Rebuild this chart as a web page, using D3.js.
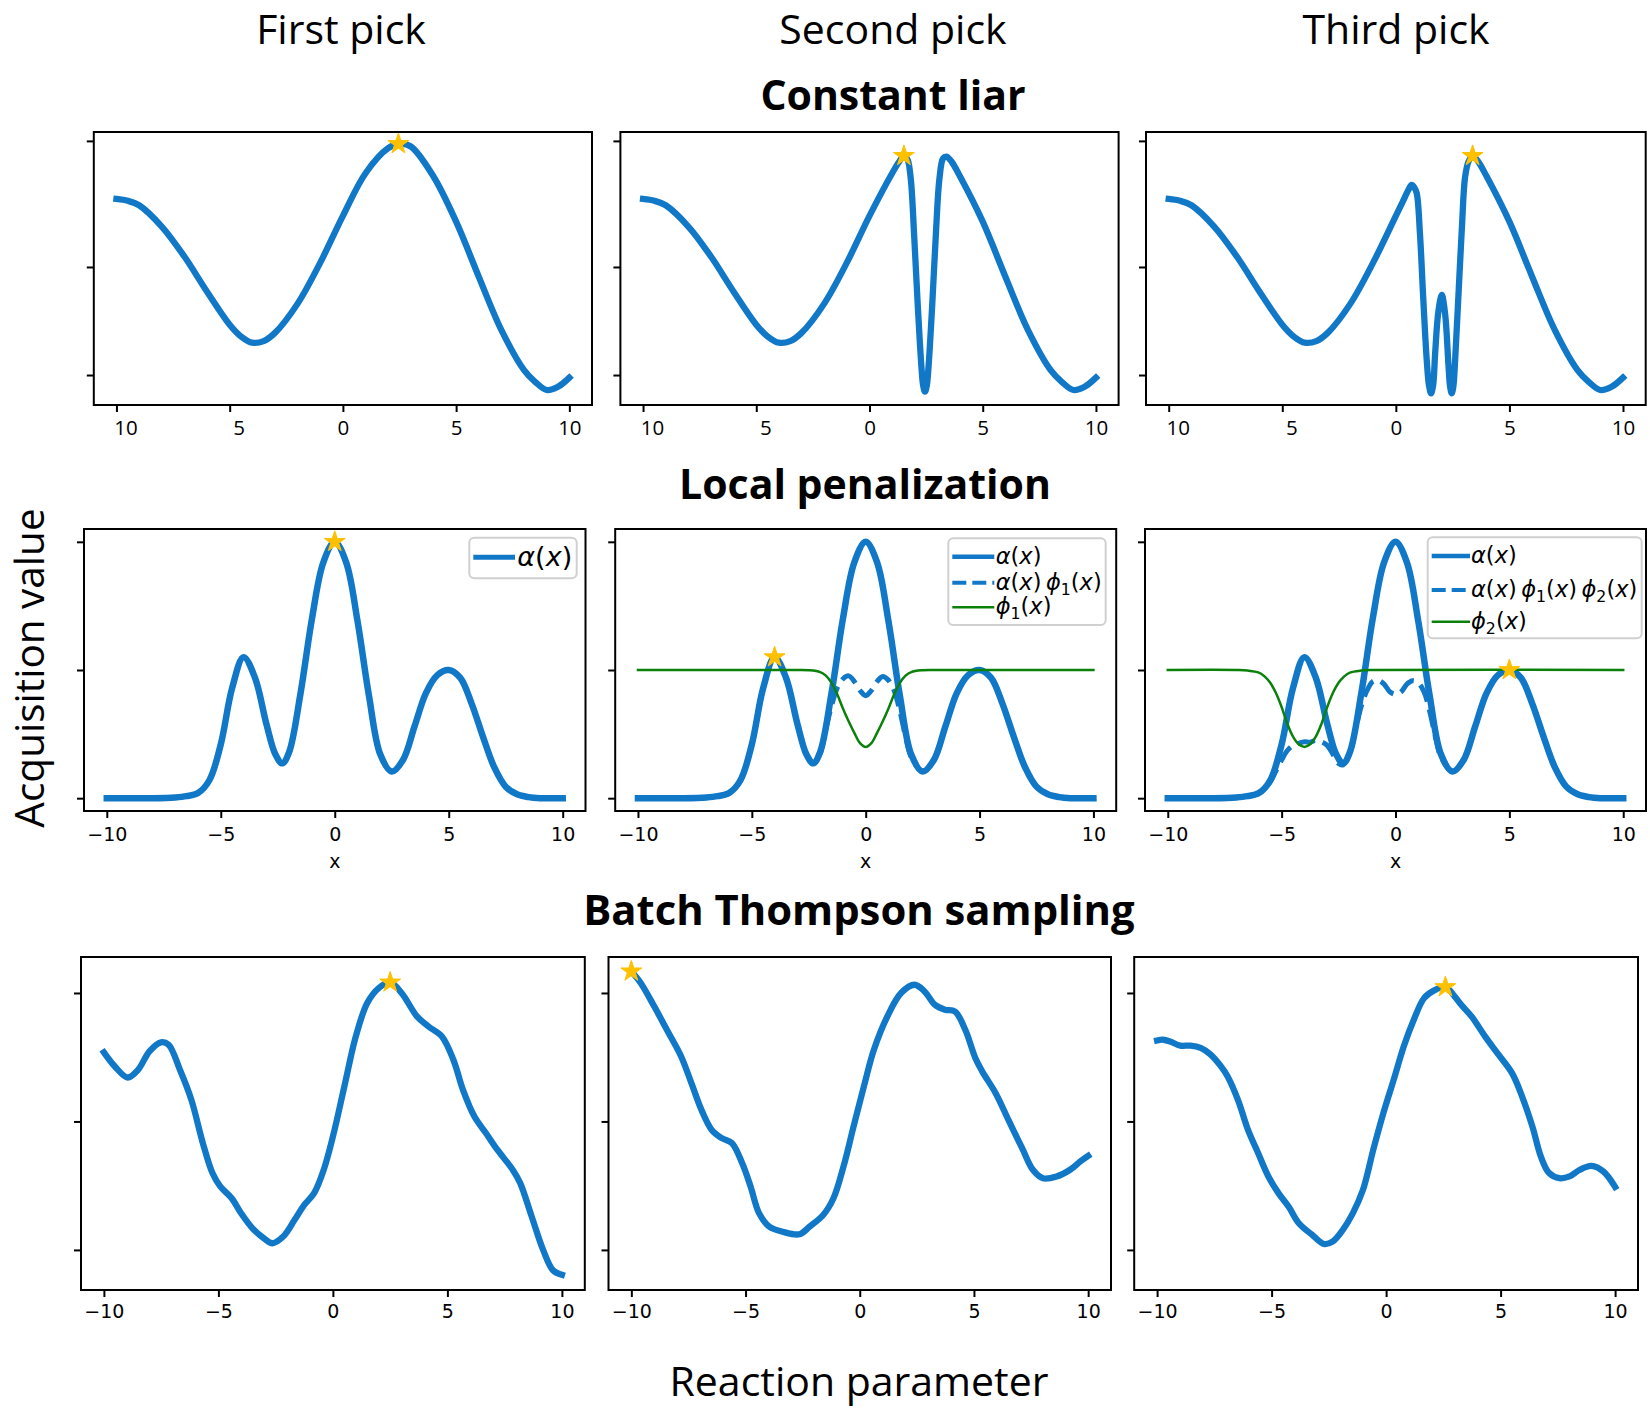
<!DOCTYPE html>
<html>
<head>
<meta charset="utf-8">
<script src="https://cdn.jsdelivr.net/npm/d3@7/dist/d3.min.js"></script>
<style>
html,body{margin:0;padding:0;background:#fff;}
svg{display:block;}
</style>
</head>
<body>
<svg id="chart" width="1650" height="1412"></svg>
<script>
// ================= DATA =================
const columnTitles = ["First pick", "Second pick", "Third pick"];
const rowTitles = ["Constant liar", "Local penalization", "Batch Thompson sampling"];
const yAxisTitle = "Acquisition value";
const xAxisTitle = "Reaction parameter";
const panelXLabel = "x";

const xTickValues = [-10, -5, 0, 5, 10];
const clXTickLabels = ["10", "5", "0", "5", "10"];
const xTickLabels = ["\u221210", "\u22125", "0", "5", "10"];
const clYTicks = [0, 0.4615, 1];
const lpYTicks = [0, 0.5, 1];
const tsYTicks = [0, 0.5, 1];

// ---- Constant liar ----
const clFirstX = [-10,-9.5,-9,-8,-7,-6,-5,-4.5,-4,-3.5,-3,-2,-1,0,1,2,2.5,3,4,5,6,7,8,8.5,9,9.5,10];
const clFirstY = [0.752,0.744,0.725,0.634,0.506,0.356,0.215,0.165,0.138,0.145,0.180,0.305,0.480,0.680,0.862,0.969,0.987,0.976,0.848,0.655,0.420,0.192,0.021,-0.030,-0.064,-0.050,-0.011];

const clSecondX = [-10,-9.5,-9,-8,-7,-6,-5,-4.5,-4,-3.5,-3,-2,-1,0,1,1.3,1.52,1.68,1.82,1.97,2.13,2.29,2.37,2.45,2.53,2.61,2.77,2.93,3.09,3.25,3.4,3.62,4,5,6,7,8,8.5,9,9.5,10];
const clSecondY = [0.752,0.744,0.725,0.634,0.506,0.356,0.215,0.165,0.138,0.145,0.180,0.305,0.480,0.680,0.862,0.910,0.936,0.920,0.840,0.600,0.300,0.040,-0.045,-0.071,-0.045,0.040,0.300,0.600,0.840,0.925,0.933,0.912,0.848,0.655,0.420,0.192,0.021,-0.030,-0.064,-0.050,-0.011];

const clThirdX = [-10,-9.5,-9,-8,-7,-6,-5,-4.5,-4,-3.5,-3,-2,-1,0,0.3,0.55,0.69,0.82,0.92,1.06,1.21,1.36,1.46,1.55,1.64,1.73,1.87,2.02,2.17,2.32,2.39,2.46,2.53,2.61,2.76,2.91,3.05,3.2,3.38,3.6,4,5,6,7,8,8.5,9,9.5,10];
const clThirdY = [0.752,0.744,0.725,0.634,0.506,0.356,0.215,0.165,0.138,0.145,0.180,0.305,0.480,0.680,0.740,0.790,0.812,0.800,0.776,0.606,0.321,0.064,-0.045,-0.078,-0.045,0.093,0.270,0.342,0.260,0.036,-0.050,-0.078,-0.050,0.064,0.349,0.634,0.847,0.912,0.936,0.915,0.848,0.655,0.420,0.192,0.021,-0.030,-0.064,-0.050,-0.011];

const clStarX = [2.45, 1.52, 3.38];
const clStarY = [0.987, 0.936, 0.936];

// ---- Local penalization ----
const lpX = [-10,-8,-7,-6.5,-6,-5.5,-5,-4.5,-4,-3.5,-3,-2.6,-2.3,-2,-1.5,-1,-0.5,0,0.5,1,1.5,2,2.5,3,3.5,4,4.5,5,5.5,6,6.5,7,7.5,8,8.5,9,10];
const lpAlpha = [0,0,0.003,0.008,0.02,0.07,0.21,0.43,0.55,0.47,0.29,0.17,0.136,0.18,0.41,0.70,0.92,1.0,0.92,0.69,0.40,0.17,0.104,0.15,0.28,0.41,0.48,0.50,0.47,0.37,0.24,0.12,0.045,0.015,0.004,0,0];

const lpProd1X = [-10,-8,-7,-6.5,-6,-5.5,-5,-4.5,-4,-3.5,-3,-2.6,-2.3,-2,-1.75,-1.5,-1.25,-1,-0.75,-0.5,-0.25,0,0.25,0.5,0.75,1,1.25,1.5,1.75,2,2.5,3,3.5,4,4.5,5,5.5,6,6.5,7,7.5,8,8.5,9,10];
const lpProd1Y = [0,0,0.003,0.008,0.02,0.07,0.21,0.43,0.55,0.47,0.29,0.17,0.136,0.175,0.27,0.36,0.43,0.465,0.477,0.455,0.42,0.40,0.42,0.455,0.475,0.46,0.42,0.34,0.24,0.16,0.104,0.15,0.28,0.41,0.48,0.50,0.47,0.37,0.24,0.12,0.045,0.015,0.004,0,0];

const lpPhi1X = [-10,-3,-2.5,-2,-1.75,-1.5,-1.25,-1,-0.75,-0.5,-0.25,0,0.25,0.5,0.75,1,1.25,1.5,1.75,2,2.5,3,10];
const lpPhi1Y = [0.5,0.5,0.499,0.492,0.478,0.45,0.405,0.35,0.30,0.255,0.215,0.2,0.215,0.255,0.30,0.35,0.405,0.45,0.478,0.492,0.499,0.5,0.5];

const lpProd2X = [-10,-8,-7,-6.5,-6,-5.5,-5.25,-5,-4.75,-4.5,-4.25,-4,-3.75,-3.5,-3.25,-3,-2.75,-2.5,-2.3,-2,-1.75,-1.5,-1.25,-1,-0.75,-0.5,-0.25,0,0.25,0.5,0.75,1,1.25,1.5,1.75,2,2.5,3,3.5,4,4.5,5,5.5,6,6.5,7,7.5,8,8.5,9,10];
const lpProd2Y = [0,0,0.003,0.008,0.02,0.063,0.107,0.149,0.186,0.206,0.214,0.22,0.218,0.226,0.22,0.206,0.172,0.135,0.13,0.175,0.27,0.36,0.42,0.455,0.46,0.445,0.415,0.405,0.415,0.445,0.458,0.45,0.415,0.34,0.24,0.16,0.104,0.15,0.28,0.41,0.48,0.50,0.47,0.37,0.24,0.12,0.045,0.015,0.004,0,0];

const lpPhi2X = [-10,-7,-6.5,-6,-5.75,-5.5,-5.25,-5,-4.75,-4.5,-4.25,-4,-3.75,-3.5,-3.25,-3,-2.75,-2.5,-2.25,-2,-1.5,-1,10];
const lpPhi2Y = [0.5,0.5,0.498,0.49,0.475,0.45,0.41,0.355,0.29,0.24,0.21,0.2,0.21,0.24,0.29,0.355,0.41,0.45,0.475,0.49,0.498,0.5,0.5];

const lpStarX = [0, -4, 5];
const lpStarY = [1.0, 0.55, 0.5];

// ---- Batch Thompson sampling ----
const tsFirstX = [-10,-9.52,-8.96,-8.51,-8.01,-7.51,-7.18,-6.68,-6.18,-5.68,-5.26,-4.92,-4.42,-4.01,-3.51,-3.01,-2.64,-2.17,-1.67,-1.25,-0.82,-0.40,0,0.5,1,1.5,2,2.5,3,3.67,4.17,4.76,5.26,5.68,6.18,6.68,7.18,7.85,8.18,8.68,9.18,9.6,10];
const tsFirstY = [0.769,0.714,0.671,0.701,0.773,0.808,0.799,0.701,0.584,0.416,0.299,0.247,0.201,0.143,0.084,0.045,0.026,0.052,0.117,0.175,0.221,0.312,0.441,0.636,0.831,0.961,1.019,1.041,1.0,0.909,0.870,0.831,0.740,0.623,0.519,0.455,0.390,0.312,0.260,0.130,0.0,-0.078,-0.097];

const tsSecondX = [-10,-9.59,-9,-8.41,-7.82,-7.37,-6.93,-6.48,-6.04,-5.6,-5.15,-4.78,-4.41,-3.97,-3.38,-2.64,-2.19,-1.6,-1.15,-0.71,-0.27,0.18,0.62,1.21,1.81,2.4,2.84,3.29,3.73,4.17,4.62,5.06,5.36,5.95,6.54,7.14,7.58,8.02,8.62,9.21,9.65,10];
const tsSecondY = [1.084,1.039,0.948,0.851,0.753,0.649,0.545,0.467,0.435,0.416,0.338,0.247,0.143,0.091,0.071,0.061,0.091,0.136,0.201,0.325,0.480,0.636,0.779,0.909,1.0,1.032,1.006,0.954,0.935,0.928,0.857,0.747,0.695,0.610,0.500,0.390,0.312,0.279,0.286,0.312,0.344,0.366];

const tsThirdX = [-10,-9.73,-9.43,-8.99,-8.54,-8.1,-7.66,-7.21,-6.92,-6.47,-6.03,-5.59,-5.14,-4.7,-4.26,-3.81,-3.22,-2.71,-2.34,-1.89,-1.45,-1.01,-0.56,-0.12,0.33,0.77,1.21,1.66,2.1,2.59,2.99,3.28,3.73,4.32,4.91,5.5,5.94,6.39,6.76,7.12,7.57,8.01,8.46,8.97,9.49,10];
const tsThirdY = [0.815,0.818,0.811,0.795,0.795,0.786,0.760,0.714,0.675,0.584,0.467,0.377,0.286,0.221,0.169,0.104,0.058,0.023,0.032,0.078,0.143,0.234,0.390,0.532,0.662,0.792,0.896,0.980,1.010,1.023,0.987,0.954,0.909,0.831,0.760,0.688,0.597,0.480,0.363,0.299,0.279,0.286,0.312,0.327,0.305,0.245];

const tsStarX = [2.5, -10, 2.59];
const tsStarY = [1.041, 1.084, 1.023];

// ================= STYLE / LAYOUT =================
const BLUE = "#1178c8", GREEN = "#0b800b", GOLD = "#ffc000";
const SANS = "'Open Sans', 'Noto Sans', sans-serif";
const DV = "'DejaVu Sans', sans-serif";
const xDomain = [-11, 11];

const rowLayout = [
  { y0: 132, y1: 405, yDomain: [-0.128, 1.038], yTicks: clYTicks, labels: clXTickLabels, labelBase: 30, tickFont: SANS, tickSize: 20.5, negShift: 9,
    boxes: [[93.8, 592], [620.4, 1118.6], [1146, 1645.7]] },
  { y0: 529, y1: 811, yDomain: [-0.05, 1.05], yTicks: lpYTicks, labels: xTickLabels, labelBase: 30, tickFont: DV, tickSize: 19, negShift: 0,
    boxes: [[84, 585.5], [615.2, 1116.2], [1145, 1646]] },
  { y0: 957, y1: 1290, yDomain: [-0.156, 1.14], yTicks: tsYTicks, labels: xTickLabels, labelBase: 28, tickFont: DV, tickSize: 19, negShift: 0,
    boxes: [[81, 584.8], [608.5, 1111], [1134.2, 1638]] }
];

const solid = (x, y) => ({ x, y, color: BLUE, width: 6.3 });
const panels = [
  { row: 0, col: 0, series: [solid(clFirstX, clFirstY)], star: [clStarX[0], clStarY[0]] },
  { row: 0, col: 1, series: [solid(clSecondX, clSecondY)], star: [clStarX[1], clStarY[1]] },
  { row: 0, col: 2, series: [solid(clThirdX, clThirdY)], star: [clStarX[2], clStarY[2]] },
  { row: 1, col: 0, series: [{ x: lpX, y: lpAlpha, color: BLUE, width: 6.5 }], star: [lpStarX[0], lpStarY[0]] },
  { row: 1, col: 1, series: [
      { x: lpX, y: lpAlpha, color: BLUE, width: 6.5 },
      { x: lpProd1X, y: lpProd1Y, color: BLUE, width: 5, dash: "18,8" },
      { x: lpPhi1X, y: lpPhi1Y, color: GREEN, width: 2.5 }], star: [lpStarX[1], lpStarY[1]] },
  { row: 1, col: 2, series: [
      { x: lpX, y: lpAlpha, color: BLUE, width: 6.5 },
      { x: lpProd2X, y: lpProd2Y, color: BLUE, width: 5, dash: "18,8" },
      { x: lpPhi2X, y: lpPhi2Y, color: GREEN, width: 2.5 }], star: [lpStarX[2], lpStarY[2]] },
  { row: 2, col: 0, series: [solid(tsFirstX, tsFirstY)], star: [tsStarX[0], tsStarY[0]] },
  { row: 2, col: 1, series: [solid(tsSecondX, tsSecondY)], star: [tsStarX[1], tsStarY[1]] },
  { row: 2, col: 2, series: [solid(tsThirdX, tsThirdY)], star: [tsStarX[2], tsStarY[2]] }
];

// math label parts: [text, kind]  kind: i=italic, n=normal, s=subscript, g=thin gap
const LBL_ALPHA = [["\u03b1","i"],["(","n"],["x","i"],[")","n"]];
const LBL_PROD1 = [["\u03b1","i"],["(","n"],["x","i"],[")","n"],["","g"],["\u03d5","i"],["1","s"],["(","n"],["x","i"],[")","n"]];
const LBL_PHI1 = [["\u03d5","i"],["1","s"],["(","n"],["x","i"],[")","n"]];
const LBL_PROD2 = [["\u03b1","i"],["(","n"],["x","i"],[")","n"],["","g"],["\u03d5","i"],["1","s"],["(","n"],["x","i"],[")","n"],["","g"],["\u03d5","i"],["2","s"],["(","n"],["x","i"],[")","n"]];
const LBL_PHI2 = [["\u03d5","i"],["2","s"],["(","n"],["x","i"],[")","n"]];

const legends = [
  { box: [469.3, 537.7, 107.4, 40.6], lx: [473.3, 515], tx: 517.3, fs: 27,
    rows: [{ y: 557.3, color: BLUE, w: 5, dash: null, label: LBL_ALPHA }] },
  { box: [948.3, 538.3, 157.4, 86.7], lx: [952.3, 994.3], tx: 995.7, fs: 22.5,
    rows: [{ y: 556.7, color: BLUE, w: 4.5, dash: null, label: LBL_ALPHA },
           { y: 582.7, color: BLUE, w: 4, dash: "14,6", label: LBL_PROD1 },
           { y: 607.3, color: GREEN, w: 2.5, dash: null, label: LBL_PHI1 }] },
  { box: [1427.7, 537.3, 214, 101], lx: [1431.7, 1470], tx: 1471, fs: 22.5,
    rows: [{ y: 556, color: BLUE, w: 4.5, dash: null, label: LBL_ALPHA },
           { y: 590, color: BLUE, w: 4, dash: "14,6", label: LBL_PROD2 },
           { y: 621.7, color: GREEN, w: 2.5, dash: null, label: LBL_PHI2 }] }
];

// ================= DRAW =================
const svg = d3.select("#chart");
const defs = svg.append("defs");
svg.append("rect").attr("width", 1650).attr("height", 1412).attr("fill", "#fff");

panels.forEach((p, i) => {
  const R = rowLayout[p.row];
  const [bx0, bx1] = R.boxes[p.col];
  const x = d3.scaleLinear().domain(xDomain).range([bx0, bx1]);
  const y = d3.scaleLinear().domain(R.yDomain).range([R.y1, R.y0]);
  const clipId = "clip" + i;
  defs.append("clipPath").attr("id", clipId).append("rect")
    .attr("x", bx0).attr("y", R.y0).attr("width", bx1 - bx0).attr("height", R.y1 - R.y0);
  const g = svg.append("g");
  const plot = g.append("g").attr("clip-path", `url(#${clipId})`);
  const line = d3.line().x(d => x(d[0])).y(d => y(d[1])).curve(d3.curveCatmullRom.alpha(0.5));
  p.series.forEach(s => {
    plot.append("path").datum(d3.zip(s.x, s.y)).attr("d", line)
      .attr("fill", "none").attr("stroke", s.color).attr("stroke-width", s.width)
      .attr("stroke-dasharray", s.dash || null)
      .attr("stroke-linecap", s.dash ? "butt" : "square")
      .attr("stroke-linejoin", "round");
  });
  g.append("path").attr("d", d3.symbol(d3.symbolStar, 135)())
    .attr("transform", `translate(${x(p.star[0])},${y(p.star[1])})`)
    .attr("fill", GOLD).attr("stroke", GOLD).attr("stroke-width", 1);
  g.append("rect").attr("x", bx0).attr("y", R.y0).attr("width", bx1 - bx0).attr("height", R.y1 - R.y0)
    .attr("fill", "none").attr("stroke", "#000").attr("stroke-width", 2);

  const xa = g.append("g").attr("transform", `translate(0,${R.y1})`)
    .call(d3.axisBottom(x).tickValues(xTickValues).tickFormat((d, k) => R.labels[k]).tickSize(7).tickSizeOuter(0));
  xa.select(".domain").remove();
  xa.selectAll(".tick line").attr("stroke", "#000").attr("stroke-width", 2);
  xa.selectAll(".tick text").attr("y", R.labelBase).attr("dy", 0)
    .attr("dx", d => (d < 0 ? R.negShift : 0))
    .attr("font-family", R.tickFont).attr("font-size", R.tickSize).attr("fill", "#000");

  const ya = g.append("g").attr("transform", `translate(${bx0},0)`)
    .call(d3.axisLeft(y).tickValues(R.yTicks).tickFormat("").tickSize(7).tickSizeOuter(0));
  ya.select(".domain").remove();
  ya.selectAll(".tick line").attr("stroke", "#000").attr("stroke-width", 2);

  if (p.row === 1) {
    g.append("text").attr("x", x(0)).attr("y", 868).attr("text-anchor", "middle")
      .attr("font-family", DV).attr("font-size", 19).text(panelXLabel);
  }
});

// legends
legends.forEach(L => {
  const g = svg.append("g");
  g.append("rect").attr("x", L.box[0]).attr("y", L.box[1]).attr("width", L.box[2]).attr("height", L.box[3])
    .attr("rx", 5).attr("fill", "#fff").attr("fill-opacity", 0.8).attr("stroke", "#d0d0d0").attr("stroke-width", 2);
  L.rows.forEach(r => {
    g.append("line").attr("x1", L.lx[0]).attr("x2", L.lx[1]).attr("y1", r.y).attr("y2", r.y)
      .attr("stroke", r.color).attr("stroke-width", r.w).attr("stroke-dasharray", r.dash);
    const t = g.append("text").attr("x", L.tx).attr("y", r.y + 0.31 * L.fs)
      .attr("font-family", DV).attr("font-size", L.fs).attr("fill", "#000");
    let pendingDx = 0, lowered = false;
    r.label.forEach(([txt, kind]) => {
      if (kind === "g") { pendingDx += 0.2 * L.fs; return; }
      const ts = t.append("tspan").text(txt);
      if (pendingDx) { ts.attr("dx", pendingDx); pendingDx = 0; }
      if (kind === "i") ts.attr("font-style", "italic");
      if (kind === "s") { ts.attr("font-size", 0.7 * L.fs).attr("dy", 0.22 * L.fs); lowered = true; }
      else if (lowered) { ts.attr("dy", -0.22 * L.fs); lowered = false; }
    });
  });
});

// titles
const colCenters = [341, 893, 1396];
columnTitles.forEach((t, i) => {
  svg.append("text").attr("x", colCenters[i]).attr("y", 44).attr("text-anchor", "middle")
    .attr("font-family", SANS).attr("font-size", 41).attr("fill", "#000").text(t);
});
const rowTitlePos = [[893, 110, 41], [865, 499, 41], [859, 925, 41.8]];
rowTitles.forEach((t, i) => {
  svg.append("text").attr("x", rowTitlePos[i][0]).attr("y", rowTitlePos[i][1]).attr("text-anchor", "middle")
    .attr("font-family", SANS).attr("font-weight", "bold").attr("font-size", rowTitlePos[i][2]).attr("fill", "#000").text(t);
});
svg.append("text").attr("transform", "translate(44,668) rotate(-90)").attr("text-anchor", "middle")
  .attr("font-family", SANS).attr("font-size", 40.5).attr("fill", "#000").text(yAxisTitle);
svg.append("text").attr("x", 859).attr("y", 1396).attr("text-anchor", "middle")
  .attr("font-family", SANS).attr("font-size", 41).attr("fill", "#000").text(xAxisTitle);
</script>
</body>
</html>
